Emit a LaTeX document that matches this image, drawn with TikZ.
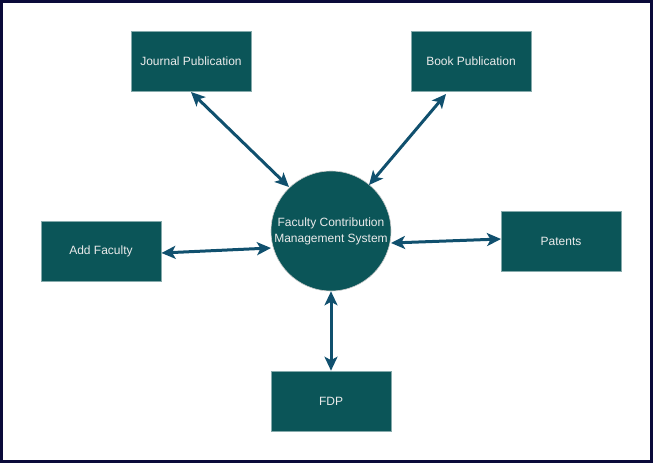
\documentclass[tikz,border=0pt]{standalone}
\usepackage{fontspec}
\setmainfont{Liberation Sans}
\usetikzlibrary{arrows.meta}
\definecolor{teal1}{HTML}{0B5558}
\definecolor{edgec}{HTML}{10506E}
\definecolor{framec}{HTML}{0A0A3A}
\begin{document}
\begin{tikzpicture}[x=1pt,y=-1pt,
  box/.style={draw=teal1!50!white,line width=0.6pt,fill=teal1,minimum width=120pt,minimum height=60pt,inner sep=0pt,text=white!92!black,font=\fontsize{12}{16}\selectfont},
  hub/.style={circle,draw=white!80!black,line width=0.6pt,fill=teal1,minimum size=120pt,inner sep=0pt,text=white!92!black,align=center,font=\fontsize{12}{16}\selectfont},
  tip/.style={Stealth[length=14pt,width=13pt,inset=3.5pt]},
  link/.style={draw=edgec,line width=3pt,{Stealth[length=14pt,width=13pt,inset=3.5pt]}-{Stealth[length=14pt,width=13pt,inset=3.5pt]}}]
\useasboundingbox (0,0) rectangle (653,463);
\draw[framec,line width=3pt] (1.5,1.5) rectangle (651.5,461.5);
\node[box] (jp) at (191,61) {Journal Publication};
\node[box] (bp) at (471,61) {Book Publication};
\node[box] (af) at (101,251) {Add Faculty};
\node[box] (pt) at (561,241) {Patents};
\node[box] (fdp) at (331,401) {FDP};
\node[hub] (c) at (331,231) {Faculty Contribution\\Management System};
\coordinate (jp1) at (191,92);
\coordinate (cj) at (289,187);
\coordinate (bp1) at (446,94);
\coordinate (cb) at (369,185);
\coordinate (af1) at (161.5,253);
\coordinate (ca) at (271,248);
\coordinate (cp) at (391,243);
\coordinate (pt1) at (501,239);
\draw[link] (jp1) -- (cj);
\draw[link] (bp1) -- (cb);
\draw[link] (af1) -- (ca);
\draw[link] (cp) -- (pt1);
\draw[link] (c.south) -- (fdp.north);
\end{tikzpicture}
\end{document}
